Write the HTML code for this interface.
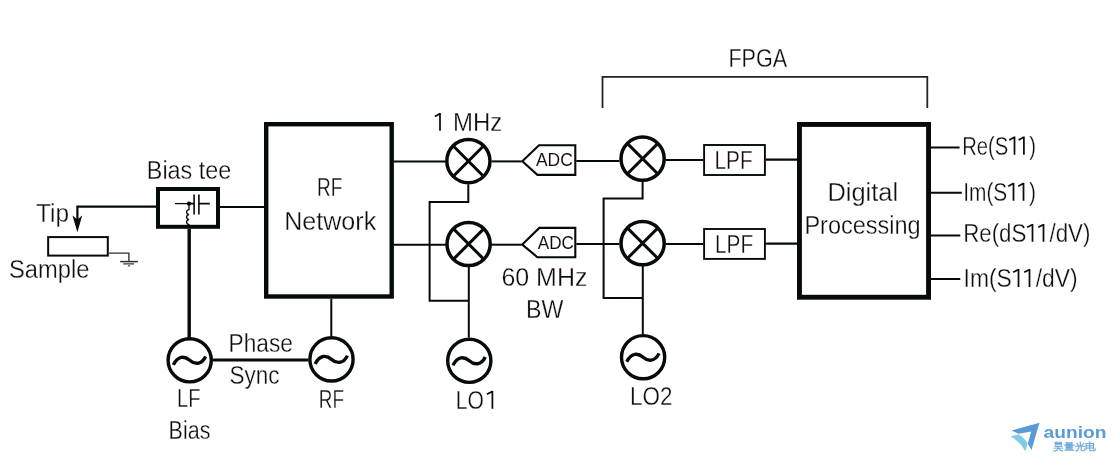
<!DOCTYPE html>
<html><head><meta charset="utf-8"><style>
html,body{margin:0;padding:0;background:#fff;}
svg{display:block;will-change:transform;}
text{font-family:"Liberation Sans",sans-serif;fill:#0d0d0d;stroke:#fff;stroke-width:0.3px;}
</style></head><body>
<svg width="1119" height="462" viewBox="0 0 1119 462">
<rect width="1119" height="462" fill="#fff"/>
<path d="M602.5,108V76.8H927.3V108" fill="none" stroke="#222" stroke-width="1.8"/>
<rect x="266.2" y="124.2" width="125.5" height="172.3" fill="none" stroke="#050a0c" stroke-width="4.4"/>
<rect x="158" y="189" width="60" height="37.8" fill="none" stroke="#050a0c" stroke-width="4"/>
<rect x="799.45" y="124.45" width="129.1" height="172.8" fill="none" stroke="#050a0c" stroke-width="4.9"/>
<rect x="704.1" y="145.0" width="60.8" height="30.0" fill="none" stroke="#050a0c" stroke-width="1.9"/>
<rect x="704.1" y="229.0" width="60.8" height="29.9" fill="none" stroke="#050a0c" stroke-width="1.9"/>
<rect x="48.15" y="237.1" width="59.65" height="18.5" fill="none" stroke="#050a0c" stroke-width="2"/>
<path d="M522.3,161.3L539.0,145.2H575.3V174.9H537.4Z" fill="none" stroke="#050a0c" stroke-width="2.1"/>
<path d="M522.3,244.6L539.3,227.9H575.3V257.2H537.4Z" fill="none" stroke="#050a0c" stroke-width="2.1"/>
<path d="M77.4,224V206.6H156" fill="none" stroke="#050a0c" stroke-width="2.2"/>
<path d="M72.4,215.4L77.4,232.2L82.2,215.4L77.4,219.6Z" fill="#050a0c"/>
<path d="M108.8,253.1H128.9V261.4" fill="none" stroke="#2e2e2e" stroke-width="1.35"/>
<path d="M120.2,261.6H137.9" fill="none" stroke="#2e2e2e" stroke-width="1.5"/><path d="M123.3,263.8H134.2M128.1,265.8H129.9" fill="none" stroke="#3a3a3a" stroke-width="1.2"/>
<path d="M220,207H264" fill="none" stroke="#050a0c" stroke-width="2.1"/>
<path d="M189.2,228.8V338" fill="none" stroke="#050a0c" stroke-width="3.4"/>
<path d="M213,360H308.5" fill="none" stroke="#050a0c" stroke-width="2.8"/>
<path d="M331.3,298.7V336.2" fill="none" stroke="#050a0c" stroke-width="2"/>
<path d="M393.9,161.5H445.2" fill="none" stroke="#050a0c" stroke-width="1.9"/>
<path d="M393.9,244.8H445.8" fill="none" stroke="#050a0c" stroke-width="1.9"/>
<path d="M491.6,161.4H521.6" fill="none" stroke="#050a0c" stroke-width="2"/>
<path d="M491.4,244.7H521.6" fill="none" stroke="#050a0c" stroke-width="2"/>
<path d="M576.3,161H619.4" fill="none" stroke="#050a0c" stroke-width="2"/>
<path d="M576.3,244H619.4" fill="none" stroke="#050a0c" stroke-width="2"/>
<path d="M665.8,159.9H703.2" fill="none" stroke="#050a0c" stroke-width="2"/>
<path d="M665.8,244H703.2" fill="none" stroke="#050a0c" stroke-width="2"/>
<path d="M765.8,159.7H797.1" fill="none" stroke="#050a0c" stroke-width="2.3"/>
<path d="M765.8,243.6H797.1" fill="none" stroke="#050a0c" stroke-width="2.3"/>
<path d="M931,147.6H959.6M931,192.7H961.8M931,235.6H960.3M931,278.9H960.3" fill="none" stroke="#050a0c" stroke-width="2"/>
<path d="M468.3,184.3V202H429.6V300.8H468.8" fill="none" stroke="#050a0c" stroke-width="2"/>
<path d="M468.8,266.4V337.6" fill="none" stroke="#050a0c" stroke-width="2"/>
<path d="M642.6,181V198.5H603.6V297.9H642.7" fill="none" stroke="#050a0c" stroke-width="2"/>
<path d="M642.8,266V334" fill="none" stroke="#050a0c" stroke-width="2"/>
<circle cx="468.4" cy="161.1" r="21.6" fill="none" stroke="#050a0c" stroke-width="3.5"/><path d="M454.06,146.76L482.74,175.44M482.74,146.76L454.06,175.44" stroke="#050a0c" stroke-width="3.0" fill="none"/>
<circle cx="468.6" cy="244.0" r="21.6" fill="none" stroke="#050a0c" stroke-width="3.5"/><path d="M454.26,229.66L482.94,258.34M482.94,229.66L454.26,258.34" stroke="#050a0c" stroke-width="3.0" fill="none"/>
<circle cx="642.6" cy="158.7" r="21.6" fill="none" stroke="#050a0c" stroke-width="3.5"/><path d="M628.26,144.36L656.94,173.04M656.94,144.36L628.26,173.04" stroke="#050a0c" stroke-width="3.0" fill="none"/>
<circle cx="642.6" cy="243.2" r="21.6" fill="none" stroke="#050a0c" stroke-width="3.5"/><path d="M628.26,228.86L656.94,257.54M656.94,228.86L628.26,257.54" stroke="#050a0c" stroke-width="3.0" fill="none"/>
<circle cx="469.3" cy="360.8" r="21.6" fill="none" stroke="#050a0c" stroke-width="3.4"/><path d="M453.00,365.40 C457.30,356.00 464.30,356.40 469.30,360.80 S481.30,365.40 485.20,357.00" fill="none" stroke="#050a0c" stroke-width="3.4"/>
<circle cx="643.1" cy="357.2" r="21.6" fill="none" stroke="#050a0c" stroke-width="3.4"/><path d="M626.80,361.80 C631.10,352.40 638.10,352.80 643.10,357.20 S655.10,361.80 659.00,353.40" fill="none" stroke="#050a0c" stroke-width="3.4"/>
<circle cx="189.7" cy="360.3" r="21.6" fill="none" stroke="#050a0c" stroke-width="3.4"/><path d="M173.40,364.90 C177.70,355.50 184.70,355.90 189.70,360.30 S201.70,364.90 205.60,356.50" fill="none" stroke="#050a0c" stroke-width="3.4"/>
<circle cx="331.5" cy="359.4" r="21.6" fill="none" stroke="#050a0c" stroke-width="3.4"/><path d="M315.20,364.00 C319.50,354.60 326.50,355.00 331.50,359.40 S343.50,364.00 347.40,355.60" fill="none" stroke="#050a0c" stroke-width="3.4"/>
<path d="M175,203.6H189" fill="none" stroke="#050a0c" stroke-width="1.3"/><path d="M189,203.6H194.1M198.9,203.6H209.8" fill="none" stroke="#050a0c" stroke-width="1.7"/>
<path d="M194.1,194.6V214.5M198.9,194.6V214.5" fill="none" stroke="#050a0c" stroke-width="1.6"/>
<circle cx="189" cy="203.6" r="2.2" fill="#050a0c"/>
<path d="M189,203.6V209.6 c-3.2,0.4 -3.2,4.6 0,5 c-3.2,0.4 -3.2,4.6 0,5 c-3.2,0.4 -3.2,4.6 0,5 V225" fill="none" stroke="#050a0c" stroke-width="1.3"/>
<path d="M1011.6,430.4L1039.5,422.8L1031.5,449.9L1027.8,443.5L1031.2,431.5L1018.5,433.8Z" fill="#5b9bd5"/>
<path d="M1010.5,436.6L1018.3,434.3Q1024.8,438 1027.6,443.6L1025.4,451.2Q1020,441.5 1010.5,436.6Z" fill="#7fcbe8"/>
<text x="1043.6" y="438.4" font-size="16" font-weight="bold" style="fill:#5b9bd5;stroke:none" textLength="62.8" lengthAdjust="spacingAndGlyphs">aunion</text>
<text x="1053.2" y="449.8" font-size="9.6" font-weight="bold" style="fill:#6fa9de;stroke:none" textLength="43" lengthAdjust="spacingAndGlyphs">昊量光电</text>
<text x="728.40" y="66.80" font-size="26.00" textLength="58.80" lengthAdjust="spacingAndGlyphs">FPGA</text>
<text x="433.00" y="130.90" font-size="26.00" textLength="69.20" lengthAdjust="spacingAndGlyphs"><tspan style="fill:none;stroke:none">1</tspan> MHz</text>
<text x="146.80" y="179.00" font-size="26.00" textLength="84.40" lengthAdjust="spacingAndGlyphs">Bias tee</text>
<text x="36.00" y="221.70" font-size="26.00" textLength="33.00" lengthAdjust="spacingAndGlyphs">Tip</text>
<text x="9.00" y="277.70" font-size="26.00" textLength="80.40" lengthAdjust="spacingAndGlyphs">Sample</text>
<text x="317.00" y="195.70" font-size="26.00" textLength="25.40" lengthAdjust="spacingAndGlyphs">RF</text>
<text x="284.20" y="229.50" font-size="26.00" textLength="92.00" lengthAdjust="spacingAndGlyphs">Network</text>
<text x="536.00" y="165.50" font-size="17.80" textLength="36.80" lengthAdjust="spacingAndGlyphs" style="stroke-width:0.05px">ADC</text>
<text x="537.80" y="248.70" font-size="17.80" textLength="36.20" lengthAdjust="spacingAndGlyphs" style="stroke-width:0.05px">ADC</text>
<text x="501.40" y="286.00" font-size="26.00" textLength="86.00" lengthAdjust="spacingAndGlyphs">60 MHz</text>
<text x="526.00" y="318.40" font-size="26.00" textLength="37.40" lengthAdjust="spacingAndGlyphs">BW</text>
<text x="714.50" y="169.10" font-size="26.00" textLength="38.10" lengthAdjust="spacingAndGlyphs">LPF</text>
<text x="715.00" y="252.80" font-size="26.00" textLength="38.20" lengthAdjust="spacingAndGlyphs">LPF</text>
<text x="827.40" y="200.80" font-size="26.00" textLength="70.80" lengthAdjust="spacingAndGlyphs">Digital</text>
<text x="804.40" y="234.30" font-size="26.00" textLength="116.20" lengthAdjust="spacingAndGlyphs">Processing</text>
<text x="962.20" y="155.20" font-size="26.00" textLength="73.80" lengthAdjust="spacingAndGlyphs">Re(S<tspan style="fill:none;stroke:none">1</tspan><tspan style="fill:none;stroke:none">1</tspan>)</text>
<text x="963.20" y="200.50" font-size="26.00" textLength="72.80" lengthAdjust="spacingAndGlyphs">Im(S<tspan style="fill:none;stroke:none">1</tspan><tspan style="fill:none;stroke:none">1</tspan>)</text>
<text x="963.20" y="242.00" font-size="26.00" textLength="127.20" lengthAdjust="spacingAndGlyphs">Re(dS<tspan style="fill:none;stroke:none">1</tspan><tspan style="fill:none;stroke:none">1</tspan>/dV)</text>
<text x="963.60" y="286.90" font-size="26.00" textLength="114.00" lengthAdjust="spacingAndGlyphs">Im(S<tspan style="fill:none;stroke:none">1</tspan><tspan style="fill:none;stroke:none">1</tspan>/dV)</text>
<text x="228.60" y="352.00" font-size="26.00" textLength="64.40" lengthAdjust="spacingAndGlyphs">Phase</text>
<text x="229.60" y="384.10" font-size="26.00" textLength="50.00" lengthAdjust="spacingAndGlyphs">Sync</text>
<text x="177.00" y="407.00" font-size="26.00" textLength="23.40" lengthAdjust="spacingAndGlyphs">LF</text>
<text x="168.60" y="439.40" font-size="26.00" textLength="41.80" lengthAdjust="spacingAndGlyphs">Bias</text>
<text x="318.80" y="407.90" font-size="26.00" textLength="25.20" lengthAdjust="spacingAndGlyphs">RF</text>
<text x="455.80" y="408.80" font-size="26.00" textLength="39.80" lengthAdjust="spacingAndGlyphs">LO<tspan style="fill:none;stroke:none">1</tspan></text>
<text x="630.00" y="404.60" font-size="26.00" textLength="42.40" lengthAdjust="spacingAndGlyphs">LO2</text>
<path d="M434.80,116.40L440.20,113.50M440.00,113.10V130.80M1009.20,139.90L1014.70,137.00M1014.50,136.60V154.80M1018.60,139.90L1024.10,137.00M1023.90,136.60V154.80M1008.20,186.20L1013.70,183.30M1013.50,182.90V200.80M1018.20,186.20L1023.70,183.30M1023.50,182.90V200.80M1027.20,227.30L1032.70,224.40M1032.50,224.00V241.70M1038.20,227.30L1043.70,224.40M1043.50,224.00V241.70M1013.20,272.30L1018.70,269.40M1018.50,269.00V286.90M1024.20,272.30L1029.70,269.40M1029.50,269.00V286.90M486.90,394.20L492.60,391.30M492.40,390.90V408.70" fill="none" stroke="#0d0d0d" stroke-width="1.75" stroke-linejoin="round"/>
</svg>
</body></html>
